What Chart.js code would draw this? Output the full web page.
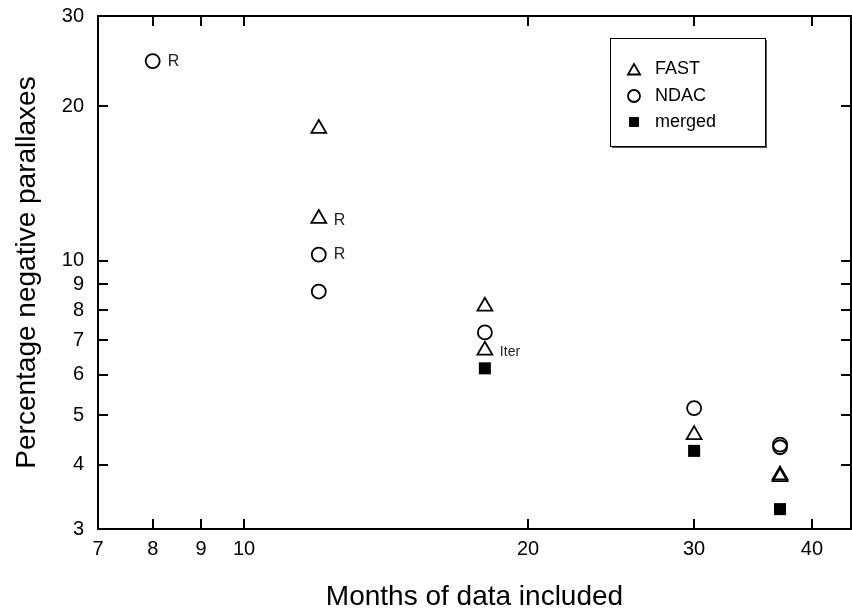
<!DOCTYPE html>
<html>
<head>
<meta charset="utf-8">
<script src="https://cdn.jsdelivr.net/npm/chart.js@4"></script>
<style>
  html, body { margin: 0; padding: 0; background: #fff; }
  canvas { display: block; }
</style>
</head>
<body>
<canvas id="chart" width="852" height="611"></canvas>
<script>
// Data (log-log axes)
const xTicks = [7, 8, 9, 10, 20, 30, 40];
const yTicks = [3, 4, 5, 6, 7, 8, 9, 10, 20, 30];

const fastMonths = [12, 12, 18, 18, 30, 37, 37];
const fastPct = [18.1, 12.08, 8.15, 6.69, 4.58, 3.82, 3.79];
const fastNotes = ['', 'R', '', 'Iter', '', '', ''];

const ndacMonths = [8, 12, 12, 18, 30, 37, 37];
const ndacPct = [24.5, 10.28, 8.71, 7.25, 5.16, 4.38, 4.33];
const ndacNotes = ['R', 'R', '', '', '', '', ''];

const mergedMonths = [18, 30, 37];
const mergedPct = [6.17, 4.26, 3.28];

const toPoints = (xs, ys) => xs.map((x, i) => ({ x: x, y: ys[i] }));

const FONT = '"Liberation Sans", Arial, sans-serif';

// frame, inward ticks on all four sides, point notes and legend
const framePlugin = {
    id: 'frame',
    afterDraw(chart) {
        const ctx = chart.ctx;
        const area = chart.chartArea;
        const xs = chart.scales.x;
        const ys = chart.scales.y;
        const len = 10;

        ctx.save();
        ctx.strokeStyle = '#000';
        ctx.lineWidth = 2;
        ctx.strokeRect(area.left, area.top, area.right - area.left, area.bottom - area.top);

        ctx.beginPath();
        xTicks.forEach(v => {
            const px = Math.round(xs.getPixelForValue(v));
            ctx.moveTo(px, area.bottom);
            ctx.lineTo(px, area.bottom - len);
            ctx.moveTo(px, area.top);
            ctx.lineTo(px, area.top + len);
        });
        yTicks.forEach(v => {
            const py = Math.round(ys.getPixelForValue(v));
            ctx.moveTo(area.left, py);
            ctx.lineTo(area.left + len, py);
            ctx.moveTo(area.right, py);
            ctx.lineTo(area.right - len, py);
        });
        ctx.stroke();

        // point notes (R, Iter)
        ctx.fillStyle = '#222';
        ctx.textBaseline = 'middle';
        ctx.textAlign = 'left';
        [fastNotes, ndacNotes].forEach((list, di) => {
            const meta = chart.getDatasetMeta(di);
            list.forEach((txt, i) => {
                if (!txt) return;
                const el = meta.data[i];
                ctx.font = (txt === 'Iter' ? '14px ' : '16px ') + FONT;
                const dy = di === 0 ? 2 : 0;
                ctx.fillText(txt, el.x + 15, el.y + dy);
            });
        });

        // legend box with drop shadow
        const bx = 610, by = 38, bw = 155, bh = 108;
        ctx.fillStyle = '#555';
        ctx.fillRect(bx + 2, by + 2, bw, bh);
        ctx.fillStyle = '#fff';
        ctx.fillRect(bx, by, bw, bh);
        ctx.lineWidth = 1;
        ctx.strokeStyle = '#000';
        ctx.strokeRect(bx + 0.5, by + 0.5, bw, bh);

        ctx.font = '18px ' + FONT;
        const rows = [69, 96, 122];
        chart.data.datasets.forEach((ds, i) => {
            const style = {
                pointStyle: ds.pointStyle,
                radius: ds.legendRadius,
                borderWidth: ds.borderWidth,
                rotation: 0
            };
            ctx.strokeStyle = ds.borderColor;
            ctx.fillStyle = ds.backgroundColor;
            ctx.lineWidth = ds.borderWidth;
            Chart.helpers.drawPoint(ctx, style, bx + 24, rows[i] + (i === 0 ? 2 : 0));
            ctx.fillStyle = '#000';
            ctx.fillText(ds.label, bx + 45, rows[i]);
        });
        ctx.restore();
    }
};

new Chart(document.getElementById('chart'), {
    type: 'scatter',
    data: {
        datasets: [
            {
                label: 'FAST',
                data: toPoints(fastMonths, fastPct),
                pointStyle: 'triangle',
                pointRadius: 8.6,
                legendRadius: 7,
                borderColor: '#000',
                backgroundColor: 'rgba(0,0,0,0)',
                borderWidth: 1.8
            },
            {
                label: 'NDAC',
                data: toPoints(ndacMonths, ndacPct),
                pointStyle: 'circle',
                pointRadius: 7,
                legendRadius: 6,
                borderColor: '#000',
                backgroundColor: 'rgba(0,0,0,0)',
                borderWidth: 1.8
            },
            {
                label: 'merged',
                data: toPoints(mergedMonths, mergedPct),
                pointStyle: 'rect',
                pointRadius: 8.5,
                legendRadius: 7,
                borderColor: '#000',
                backgroundColor: '#000',
                borderWidth: 0
            }
        ]
    },
    options: {
        responsive: false,
        animation: false,
        devicePixelRatio: 1,
        layout: { autoPadding: false, padding: { top: 16, right: 1, left: 0, bottom: 0 } },
        plugins: {
            legend: { display: false },
            tooltip: { enabled: false }
        },
        scales: {
            x: {
                type: 'logarithmic',
                min: 7,
                max: 44,
                afterBuildTicks: s => { s.ticks = xTicks.map(v => ({ value: v })); },
                afterFit: s => { s.height = 82; s.paddingLeft = 0; s.paddingRight = 0; },
                grid: { display: false, drawTicks: false },
                border: { display: false },
                ticks: {
                    autoSkip: false,
                    maxRotation: 0,
                    padding: 8,
                    color: '#000',
                    font: { family: FONT, size: 20 },
                    callback: v => String(v)
                },
                title: {
                    display: true,
                    text: 'Months of data included',
                    color: '#000',
                    padding: { top: 0, bottom: 0 },
                    font: { family: FONT, size: 28, lineHeight: 1 }
                }
            },
            y: {
                type: 'logarithmic',
                min: 3,
                max: 30,
                afterBuildTicks: s => { s.ticks = yTicks.map(v => ({ value: v })); },
                afterFit: s => { s.width = 98; s.paddingTop = 0; s.paddingBottom = 0; },
                grid: { display: false, drawTicks: false },
                border: { display: false },
                ticks: {
                    autoSkip: false,
                    padding: 14,
                    color: '#000',
                    font: { family: FONT, size: 20 },
                    callback: v => String(v)
                },
                title: {
                    display: true,
                    text: 'Percentage negative parallaxes',
                    color: '#000',
                    padding: { top: 13, bottom: 0 },
                    font: { family: FONT, size: 28, lineHeight: 1 }
                }
            }
        }
    },
    plugins: [framePlugin]
});
</script>
</body>
</html>
